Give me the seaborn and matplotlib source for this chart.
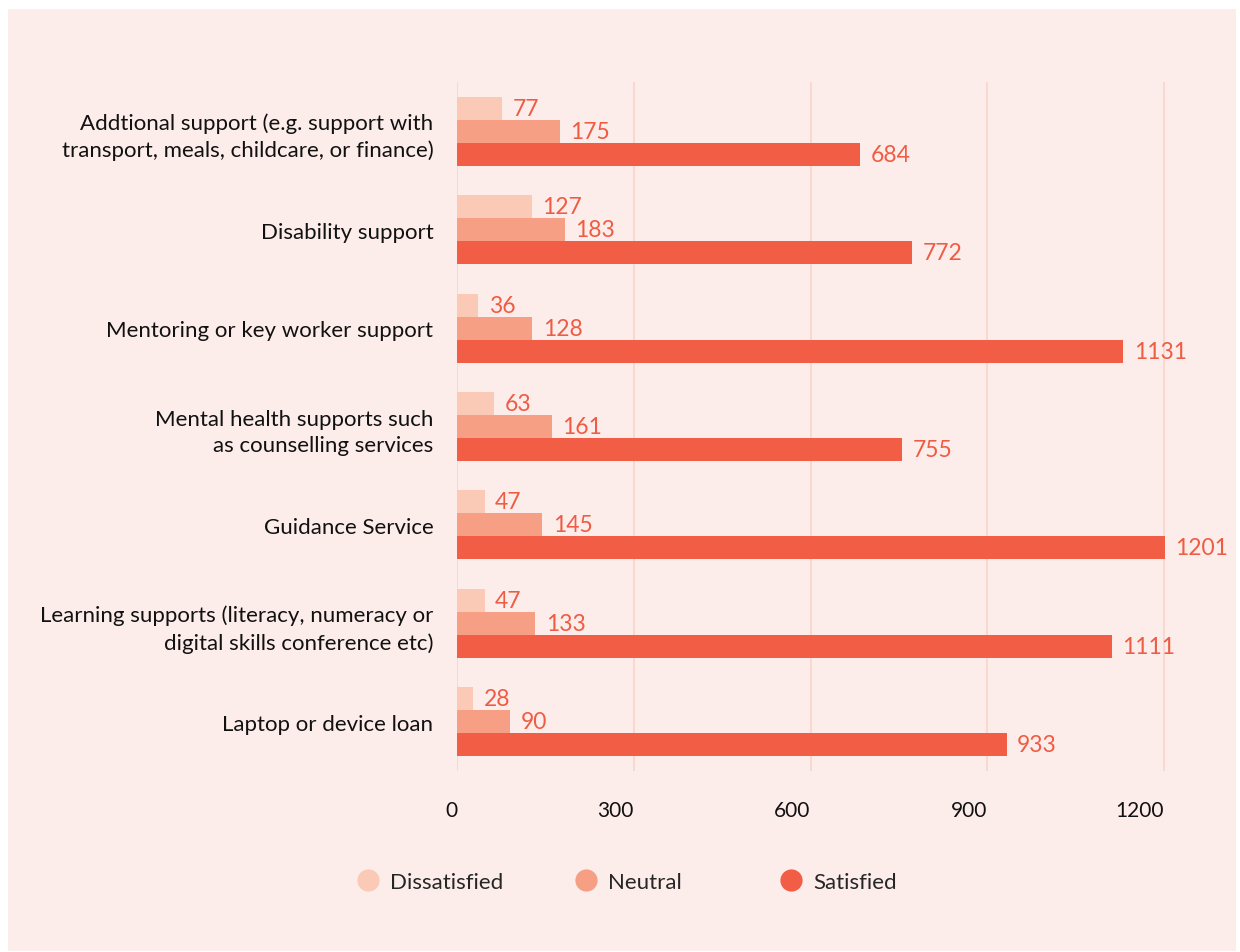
import matplotlib
matplotlib.use("Agg")
import matplotlib.pyplot as plt
from matplotlib.lines import Line2D
from matplotlib.patches import Rectangle
import pandas as pd
import seaborn as sns

categories = [
    "Addtional support (e.g. support with\ntransport, meals, childcare, or finance)",
    "Disability support",
    "Mentoring or key worker support",
    "Mental health supports such\nas counselling services",
    "Guidance Service",
    "Learning supports (literacy, numeracy or\ndigital skills conference etc)",
    "Laptop or device loan",
]
ratings = ["Dissatisfied", "Neutral", "Satisfied"]
dissatisfied = [77, 127, 36, 63, 47, 47, 28]
neutral = [175, 183, 128, 161, 145, 133, 90]
satisfied = [684, 772, 1131, 755, 1201, 1111, 933]
x_ticks = [0, 300, 600, 900, 1200]

colors = ["#fbcab6", "#f69f84", "#f15e45"]
label_color = "#ef5c44"
panel_color = "#fdedea"
grid_color = "#f9d6ca"

df = pd.DataFrame({
    "category": categories * 3,
    "rating": [r for r in ratings for _ in categories],
    "count": dissatisfied + neutral + satisfied,
})

sns.set_theme(style="white")
plt.rcParams["font.family"] = ["Lato", "DejaVu Sans"]

fig = plt.figure(figsize=(12.4, 9.53), dpi=100, facecolor="white")
fig.patches.append(Rectangle((8 / 1240, 1 / 953), 1228 / 1240, 942 / 953,
                             transform=fig.transFigure, facecolor=panel_color,
                             edgecolor="none", zorder=-10))

ax = fig.add_axes([457 / 1240, 1 - 772 / 953, (1223 - 457) / 1240, (772 - 83) / 953])
ax.set_facecolor("none")

sns.barplot(data=df, y="category", x="count", hue="rating", orient="h",
            palette=colors, hue_order=ratings, order=categories,
            width=0.7, saturation=1, ax=ax, legend=False, zorder=3,
            linewidth=0, edgecolor="none")

for cont in ax.containers:
    ax.bar_label(cont, padding=7.5, color=label_color, fontsize=16.5)

ax.set_xlim(0, 1300)
ax.set_ylim(6.5, -0.5)
ax.set_xticks(x_ticks)
ax.set_xticklabels([str(t) for t in x_ticks], ha="right")
ax.xaxis.grid(True, color=grid_color, linewidth=1.2, zorder=0)
ax.set_axisbelow(True)
ax.tick_params(axis="x", length=0, pad=21, labelsize=15, labelcolor="#111111")
ax.tick_params(axis="y", length=0, pad=17, labelsize=16, labelcolor="#111111")
for lbl in ax.get_yticklabels():
    lbl.set_multialignment("right")
    lbl.set_linespacing(1.4)
ax.set_xlabel("")
ax.set_ylabel("")
for s in ax.spines.values():
    s.set_visible(False)

# legend entries, one per rating, with circular markers
legend_x = [357 / 1240, 575 / 1240, 780 / 1240]
for name, col, lx in zip(ratings, colors, legend_x):
    h = Line2D([], [], marker="o", linestyle="none", markersize=16,
               markerfacecolor=col, markeredgecolor="none")
    fig.legend([h], [name], loc="center left", bbox_to_anchor=(lx, 1 - 883 / 953),
               frameon=False, fontsize=16, handlelength=1.0, handletextpad=0.5,
               borderaxespad=0, borderpad=0)

fig.savefig("out.png", dpi=100, facecolor="white")
